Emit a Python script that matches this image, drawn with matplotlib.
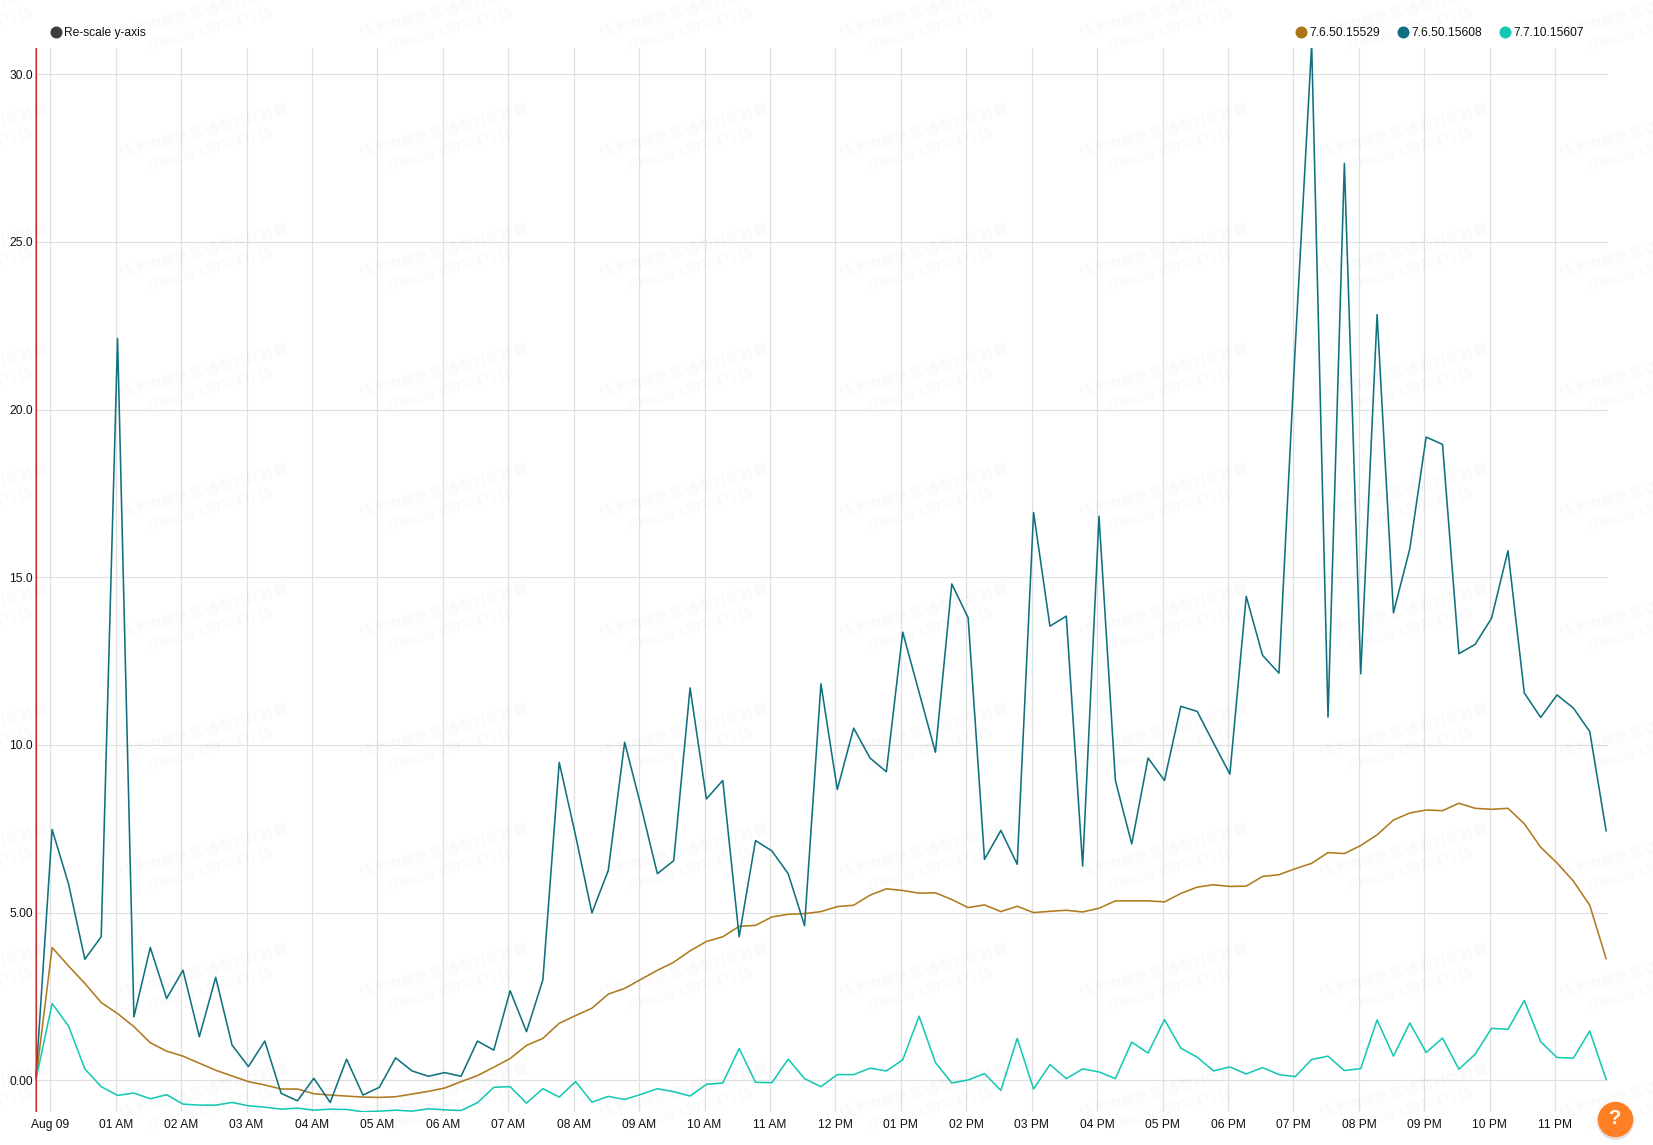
import matplotlib
matplotlib.use('Agg')
import matplotlib.pyplot as plt
from matplotlib.lines import Line2D

FIG_W, FIG_H = 1653, 1145
DPI = 100

series_names = ['7.6.50.15529', '7.6.50.15608', '7.7.10.15607']
series_colors = ['#b07a20', '#10727f', '#16c9b3']
legend_colors = ['#ab7518', '#0f7082', '#14c8b4']

# one sample every 15 minutes, 97 samples per series
version_529 = [
    0.00, 3.96, 3.41, 2.89, 2.32, 1.99, 1.60, 1.12, 0.87, 0.72, 0.51, 0.30, 0.13,
    -0.04, -0.14, -0.26, -0.26, -0.40, -0.44, -0.47, -0.50, -0.51, -0.49, -0.41,
    -0.33, -0.23, -0.04, 0.14, 0.39, 0.65, 1.04, 1.25, 1.70, 1.93, 2.15, 2.57,
    2.74, 3.01, 3.28, 3.52, 3.86, 4.14, 4.28, 4.59, 4.62, 4.87, 4.95, 4.97, 5.03,
    5.18, 5.22, 5.52, 5.71, 5.66, 5.58, 5.59, 5.39, 5.15, 5.23, 5.03, 5.19, 5.00,
    5.04, 5.07, 5.02, 5.13, 5.35, 5.35, 5.35, 5.32, 5.57, 5.76, 5.83, 5.78, 5.79,
    6.08, 6.13, 6.31, 6.47, 6.79, 6.76, 7.00, 7.32, 7.76, 7.97, 8.06, 8.04, 8.26,
    8.11, 8.08, 8.11, 7.65, 6.95, 6.48, 5.94, 5.22, 3.63,
]
version_608 = [
    0.00, 7.48, 5.86, 3.61, 4.28, 22.12, 1.89, 3.96, 2.44, 3.28, 1.30, 3.07, 1.05,
    0.41, 1.17, -0.39, -0.61, 0.06, -0.66, 0.63, -0.44, -0.21, 0.67, 0.28, 0.12,
    0.23, 0.12, 1.17, 0.90, 2.67, 1.45, 2.99, 9.48, 7.30, 4.99, 6.26, 10.08, 8.17,
    6.16, 6.55, 11.70, 8.39, 8.94, 4.28, 7.15, 6.84, 6.16, 4.61, 11.82, 8.67,
    10.50, 9.61, 9.20, 13.36, 11.57, 9.78, 14.80, 13.79, 6.59, 7.45, 6.44, 16.93,
    13.54, 13.84, 6.39, 16.82, 8.94, 7.05, 9.61, 8.94, 11.15, 11.00, 10.06, 9.13,
    14.43, 12.67, 12.14, 21.90, 30.90, 10.83, 27.34, 12.12, 22.83, 13.94, 15.85,
    19.18, 18.96, 12.72, 13.00, 13.78, 15.79, 11.55, 10.82, 11.49, 11.10, 10.40,
    7.44,
]
version_607 = [
    0.00, 2.29, 1.62, 0.34, -0.19, -0.45, -0.38, -0.55, -0.43, -0.71, -0.74, -0.74,
    -0.66, -0.76, -0.80, -0.86, -0.83, -0.89, -0.86, -0.87, -0.94, -0.92, -0.89,
    -0.92, -0.85, -0.88, -0.90, -0.67, -0.21, -0.19, -0.68, -0.25, -0.50, -0.04,
    -0.65, -0.48, -0.57, -0.42, -0.25, -0.34, -0.47, -0.12, -0.08, 0.95, -0.06,
    -0.07, 0.63, 0.05, -0.19, 0.17, 0.17, 0.36, 0.28, 0.61, 1.91, 0.53, -0.08,
    0.01, 0.20, -0.30, 1.25, -0.26, 0.47, 0.05, 0.34, 0.25, 0.05, 1.14, 0.81, 1.81,
    0.96, 0.69, 0.28, 0.40, 0.19, 0.38, 0.17, 0.11, 0.62, 0.72, 0.29, 0.35, 1.80,
    0.72, 1.71, 0.83, 1.26, 0.33, 0.78, 1.55, 1.52, 2.38, 1.15, 0.68, 0.66, 1.47,
    0.03,
]

hour_labels = [
    'Aug 09', '01 AM', '02 AM', '03 AM', '04 AM', '05 AM', '06 AM', '07 AM',
    '08 AM', '09 AM', '10 AM', '11 AM', '12 PM', '01 PM', '02 PM', '03 PM',
    '04 PM', '05 PM', '06 PM', '07 PM', '08 PM', '09 PM', '10 PM', '11 PM',
]
y_ticks = [0, 5, 10, 15, 20, 25, 30]
y_labels = ['0.00', '5.00', '10.0', '15.0', '20.0', '25.0', '30.0']

plt.rcParams['font.family'] = ['Liberation Sans', 'DejaVu Sans']

# first bucket starts a little before midnight
first_hour = -0.222
hours = [first_hour + 0.25 * i for i in range(len(version_529))]


def fx(px):
    return px / FIG_W


def fy(px):
    return 1 - px / FIG_H


def dot(fig, px, py, radius, color, zorder=5, alpha=1.0):
    # round marker placed by pixel position on the figure
    fig.add_artist(Line2D([fx(px)], [fy(py)], marker='o', linestyle='none',
                          markersize=2 * radius * 72 / DPI, markerfacecolor=color,
                          markeredgecolor='none', alpha=alpha, zorder=zorder,
                          transform=fig.transFigure))


fig = plt.figure(figsize=(FIG_W / DPI, FIG_H / DPI), dpi=DPI, facecolor='white')
ax = fig.add_axes([fx(34.5), fy(1112), (1607.5 - 34.5) / FIG_W, (1112 - 48) / FIG_H])
ax.set_facecolor('white')

ax.set_xlim((34.5 - 50.3) / 65.43, (1607.5 - 50.3) / 65.43)
ax.set_ylim(-0.945, 30.78)

ax.set_xticks(range(len(hour_labels)))
ax.set_xticklabels(hour_labels)
ax.set_yticks(y_ticks)
ax.set_yticklabels(y_labels)
ax.tick_params(axis='x', length=0, pad=5.2, labelsize=8.64, labelcolor='#111111')
ax.tick_params(axis='y', length=0, pad=1.3, labelsize=8.64, labelcolor='#111111')
ax.grid(True, color='#e0e0e0', linewidth=0.9)
ax.set_axisbelow(True)
for spine in ax.spines.values():
    spine.set_visible(False)

for values, color, name in zip([version_529, version_608, version_607], series_colors, series_names):
    ax.plot(hours, values, color=color, linewidth=1.15, label=name, zorder=3)

# cursor line on the first bucket
ax.axvline(first_hour - 0.016, color='#f38a8a', linewidth=2.2, zorder=2)
ax.axvline(first_hour + 0.002, color='#d03030', linewidth=0.85, zorder=4)

# legend row above the plot
dot(fig, 56, 32, 6, '#3d3d3d')
fig.text(fx(64.3), fy(32.7), 'Re-scale y-axis', fontsize=8.64, color='#111111', va='center', ha='left')
for name, color, dot_x, text_x in zip(series_names, legend_colors, [1300.7, 1403, 1505], [1309, 1411.3, 1513]):
    dot(fig, dot_x, 32, 6, color)
    fig.text(fx(text_x), fy(32.7), name, fontsize=8.64, color='#111111', va='center', ha='left')

# repeated watermark over the page
for col in range(-1, 7):
    for row in range(0, 11):
        cx = 204 + 240 * col
        cy = 12 + 120 * row
        fig.text(fx(cx), fy(cy), '快手内部信息 请勿对外转载', fontsize=10.2, rotation=15,
                 family=['Noto Sans CJK SC', 'DejaVu Sans'], color='black', alpha=0.035,
                 ha='center', va='center', rotation_mode='anchor', zorder=6)
        fig.text(fx(cx + 6), fy(cy + 17), 'chenchi 1597047719', fontsize=10, rotation=15,
                 color='black', alpha=0.035, ha='center', va='center',
                 rotation_mode='anchor', zorder=6)

# help button in the lower right corner
dot(fig, 1614.5, 1120.5, 18.5, '#000000', zorder=7, alpha=0.12)
dot(fig, 1614.5, 1119, 17.7, '#ff7f24', zorder=8)
fig.text(fx(1614.5), fy(1119), '?', fontsize=14.5, fontweight='bold', color='white',
         ha='center', va='center', zorder=9)

fig.savefig('out.png', dpi=DPI)
plt.close(fig)
